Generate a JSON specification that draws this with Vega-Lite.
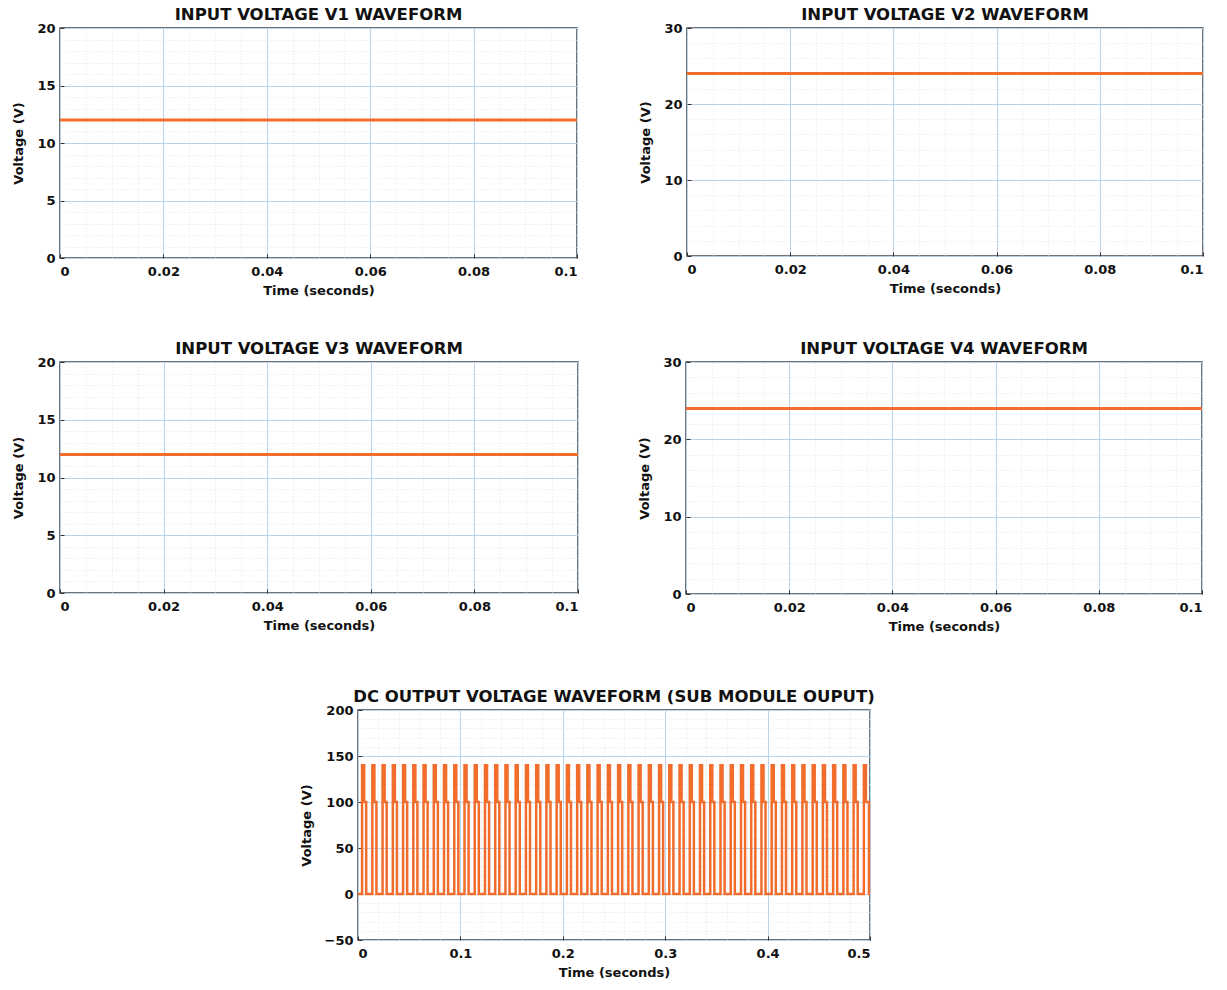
{
  "$schema": "https://vega.github.io/schema/vega-lite/v6.json",
  "background": "white",
  "padding": {"left": 12, "top": 5, "right": 5, "bottom": 5},
  "datasets": {
    "v1": [{"t": 0, "v": 12}, {"t": 0.1, "v": 12}],
    "v2": [{"t": 0, "v": 24}, {"t": 0.1, "v": 24}],
    "v3": [{"t": 0, "v": 12}, {"t": 0.1, "v": 12}],
    "v4": [{"t": 0, "v": 24}, {"t": 0.1, "v": 24}],
    "vdc": [
      {"t": 0, "v": 0},
      {"t": 0.004, "v": 140}, {"t": 0.006, "v": 100}, {"t": 0.008, "v": 0},
      {"t": 0.014, "v": 140}, {"t": 0.016, "v": 100}, {"t": 0.018, "v": 0},
      {"t": 0.024, "v": 140}, {"t": 0.026, "v": 100}, {"t": 0.028, "v": 0},
      {"t": 0.034, "v": 140}, {"t": 0.036, "v": 100}, {"t": 0.038, "v": 0},
      {"t": 0.044, "v": 140}, {"t": 0.046, "v": 100}, {"t": 0.048, "v": 0},
      {"t": 0.054, "v": 140}, {"t": 0.056, "v": 100}, {"t": 0.058, "v": 0},
      {"t": 0.064, "v": 140}, {"t": 0.066, "v": 100}, {"t": 0.068, "v": 0},
      {"t": 0.074, "v": 140}, {"t": 0.076, "v": 100}, {"t": 0.078, "v": 0},
      {"t": 0.084, "v": 140}, {"t": 0.086, "v": 100}, {"t": 0.088, "v": 0},
      {"t": 0.094, "v": 140}, {"t": 0.096, "v": 100}, {"t": 0.098, "v": 0},
      {"t": 0.104, "v": 140}, {"t": 0.106, "v": 100}, {"t": 0.108, "v": 0},
      {"t": 0.114, "v": 140}, {"t": 0.116, "v": 100}, {"t": 0.118, "v": 0},
      {"t": 0.124, "v": 140}, {"t": 0.126, "v": 100}, {"t": 0.128, "v": 0},
      {"t": 0.134, "v": 140}, {"t": 0.136, "v": 100}, {"t": 0.138, "v": 0},
      {"t": 0.144, "v": 140}, {"t": 0.146, "v": 100}, {"t": 0.148, "v": 0},
      {"t": 0.154, "v": 140}, {"t": 0.156, "v": 100}, {"t": 0.158, "v": 0},
      {"t": 0.164, "v": 140}, {"t": 0.166, "v": 100}, {"t": 0.168, "v": 0},
      {"t": 0.174, "v": 140}, {"t": 0.176, "v": 100}, {"t": 0.178, "v": 0},
      {"t": 0.184, "v": 140}, {"t": 0.186, "v": 100}, {"t": 0.188, "v": 0},
      {"t": 0.194, "v": 140}, {"t": 0.196, "v": 100}, {"t": 0.198, "v": 0},
      {"t": 0.204, "v": 140}, {"t": 0.206, "v": 100}, {"t": 0.208, "v": 0},
      {"t": 0.214, "v": 140}, {"t": 0.216, "v": 100}, {"t": 0.218, "v": 0},
      {"t": 0.224, "v": 140}, {"t": 0.226, "v": 100}, {"t": 0.228, "v": 0},
      {"t": 0.234, "v": 140}, {"t": 0.236, "v": 100}, {"t": 0.238, "v": 0},
      {"t": 0.244, "v": 140}, {"t": 0.246, "v": 100}, {"t": 0.248, "v": 0},
      {"t": 0.254, "v": 140}, {"t": 0.256, "v": 100}, {"t": 0.258, "v": 0},
      {"t": 0.264, "v": 140}, {"t": 0.266, "v": 100}, {"t": 0.268, "v": 0},
      {"t": 0.274, "v": 140}, {"t": 0.276, "v": 100}, {"t": 0.278, "v": 0},
      {"t": 0.284, "v": 140}, {"t": 0.286, "v": 100}, {"t": 0.288, "v": 0},
      {"t": 0.294, "v": 140}, {"t": 0.296, "v": 100}, {"t": 0.298, "v": 0},
      {"t": 0.304, "v": 140}, {"t": 0.306, "v": 100}, {"t": 0.308, "v": 0},
      {"t": 0.314, "v": 140}, {"t": 0.316, "v": 100}, {"t": 0.318, "v": 0},
      {"t": 0.324, "v": 140}, {"t": 0.326, "v": 100}, {"t": 0.328, "v": 0},
      {"t": 0.334, "v": 140}, {"t": 0.336, "v": 100}, {"t": 0.338, "v": 0},
      {"t": 0.344, "v": 140}, {"t": 0.346, "v": 100}, {"t": 0.348, "v": 0},
      {"t": 0.354, "v": 140}, {"t": 0.356, "v": 100}, {"t": 0.358, "v": 0},
      {"t": 0.364, "v": 140}, {"t": 0.366, "v": 100}, {"t": 0.368, "v": 0},
      {"t": 0.374, "v": 140}, {"t": 0.376, "v": 100}, {"t": 0.378, "v": 0},
      {"t": 0.384, "v": 140}, {"t": 0.386, "v": 100}, {"t": 0.388, "v": 0},
      {"t": 0.394, "v": 140}, {"t": 0.396, "v": 100}, {"t": 0.398, "v": 0},
      {"t": 0.404, "v": 140}, {"t": 0.406, "v": 100}, {"t": 0.408, "v": 0},
      {"t": 0.414, "v": 140}, {"t": 0.416, "v": 100}, {"t": 0.418, "v": 0},
      {"t": 0.424, "v": 140}, {"t": 0.426, "v": 100}, {"t": 0.428, "v": 0},
      {"t": 0.434, "v": 140}, {"t": 0.436, "v": 100}, {"t": 0.438, "v": 0},
      {"t": 0.444, "v": 140}, {"t": 0.446, "v": 100}, {"t": 0.448, "v": 0},
      {"t": 0.454, "v": 140}, {"t": 0.456, "v": 100}, {"t": 0.458, "v": 0},
      {"t": 0.464, "v": 140}, {"t": 0.466, "v": 100}, {"t": 0.468, "v": 0},
      {"t": 0.474, "v": 140}, {"t": 0.476, "v": 100}, {"t": 0.478, "v": 0},
      {"t": 0.484, "v": 140}, {"t": 0.486, "v": 100}, {"t": 0.488, "v": 0},
      {"t": 0.494, "v": 140}, {"t": 0.496, "v": 100}, {"t": 0.499, "v": 0},
      {"t": 0.5, "v": 0}
    ]
  },
  "align": "none",
  "spacing": 53,
  "vconcat": [
    {
      "align": "none",
      "spacing": 41,
      "vconcat": [
        {
          "align": "none",
          "spacing": 55,
          "hconcat": [
            {
              "width": 517, "height": 230,
              "title": "INPUT VOLTAGE V1 WAVEFORM",
              "data": {"name": "v1"},
              "layer": [
                {
                  "mark": {"type": "line", "opacity": 0},
                  "encoding": {
                    "x": {"field": "t", "type": "quantitative", "scale": {"domain": [0, 0.1], "nice": false},
                          "axis": {"orient": "top", "values": [0.005, 0.01, 0.015, 0.025, 0.03, 0.035, 0.045, 0.05, 0.055, 0.065, 0.07, 0.075, 0.085, 0.09, 0.095], "grid": true, "gridDash": [1, 2], "gridColor": "#e2e8ef", "labels": false, "ticks": false, "title": null}},
                    "y": {"field": "v", "type": "quantitative", "scale": {"domain": [0, 20], "nice": false},
                          "axis": {"orient": "right", "values": [1, 2, 3, 4, 6, 7, 8, 9, 11, 12, 13, 14, 16, 17, 18, 19], "grid": true, "gridDash": [1, 2], "gridColor": "#e2e8ef", "labels": false, "ticks": false, "title": null}}
                  }
                },
                {
                  "mark": {"type": "line", "color": "#f26d2c", "strokeWidth": 3},
                  "encoding": {
                    "x": {"field": "t", "type": "quantitative", "scale": {"domain": [0, 0.1], "nice": false},
                          "axis": {"values": [0, 0.02, 0.04, 0.06, 0.08, 0.1], "format": "~g", "grid": true, "title": "Time (seconds)"}},
                    "y": {"field": "v", "type": "quantitative", "scale": {"domain": [0, 20], "nice": false},
                          "axis": {"values": [0, 5, 10, 15, 20], "grid": true, "title": "Voltage (V)"}}
                  }
                }
              ],
              "resolve": {"axis": {"x": "independent", "y": "independent"}}
            },
            {
              "width": 516, "height": 228,
              "title": "INPUT VOLTAGE V2 WAVEFORM",
              "data": {"name": "v2"},
              "layer": [
                {
                  "mark": {"type": "line", "opacity": 0},
                  "encoding": {
                    "x": {"field": "t", "type": "quantitative", "scale": {"domain": [0, 0.1], "nice": false},
                          "axis": {"orient": "top", "values": [0.005, 0.01, 0.015, 0.025, 0.03, 0.035, 0.045, 0.05, 0.055, 0.065, 0.07, 0.075, 0.085, 0.09, 0.095], "grid": true, "gridDash": [1, 2], "gridColor": "#e2e8ef", "labels": false, "ticks": false, "title": null}},
                    "y": {"field": "v", "type": "quantitative", "scale": {"domain": [0, 30], "nice": false},
                          "axis": {"orient": "right", "values": [2, 4, 6, 8, 12, 14, 16, 18, 22, 24, 26, 28], "grid": true, "gridDash": [1, 2], "gridColor": "#e2e8ef", "labels": false, "ticks": false, "title": null}}
                  }
                },
                {
                  "mark": {"type": "line", "color": "#f26d2c", "strokeWidth": 3},
                  "encoding": {
                    "x": {"field": "t", "type": "quantitative", "scale": {"domain": [0, 0.1], "nice": false},
                          "axis": {"values": [0, 0.02, 0.04, 0.06, 0.08, 0.1], "format": "~g", "grid": true, "title": "Time (seconds)"}},
                    "y": {"field": "v", "type": "quantitative", "scale": {"domain": [0, 30], "nice": false},
                          "axis": {"values": [0, 10, 20, 30], "grid": true, "title": "Voltage (V)"}}
                  }
                }
              ],
              "resolve": {"axis": {"x": "independent", "y": "independent"}}
            }
          ]
        },
        {
          "align": "none",
          "spacing": 53,
          "hconcat": [
            {
              "width": 518, "height": 231,
              "title": "INPUT VOLTAGE V3 WAVEFORM",
              "data": {"name": "v3"},
              "layer": [
                {
                  "mark": {"type": "line", "opacity": 0},
                  "encoding": {
                    "x": {"field": "t", "type": "quantitative", "scale": {"domain": [0, 0.1], "nice": false},
                          "axis": {"orient": "top", "values": [0.005, 0.01, 0.015, 0.025, 0.03, 0.035, 0.045, 0.05, 0.055, 0.065, 0.07, 0.075, 0.085, 0.09, 0.095], "grid": true, "gridDash": [1, 2], "gridColor": "#e2e8ef", "labels": false, "ticks": false, "title": null}},
                    "y": {"field": "v", "type": "quantitative", "scale": {"domain": [0, 20], "nice": false},
                          "axis": {"orient": "right", "values": [1, 2, 3, 4, 6, 7, 8, 9, 11, 12, 13, 14, 16, 17, 18, 19], "grid": true, "gridDash": [1, 2], "gridColor": "#e2e8ef", "labels": false, "ticks": false, "title": null}}
                  }
                },
                {
                  "mark": {"type": "line", "color": "#f26d2c", "strokeWidth": 3},
                  "encoding": {
                    "x": {"field": "t", "type": "quantitative", "scale": {"domain": [0, 0.1], "nice": false},
                          "axis": {"values": [0, 0.02, 0.04, 0.06, 0.08, 0.1], "format": "~g", "grid": true, "title": "Time (seconds)"}},
                    "y": {"field": "v", "type": "quantitative", "scale": {"domain": [0, 20], "nice": false},
                          "axis": {"values": [0, 5, 10, 15, 20], "grid": true, "title": "Voltage (V)"}}
                  }
                }
              ],
              "resolve": {"axis": {"x": "independent", "y": "independent"}}
            },
            {
              "width": 516, "height": 232,
              "title": "INPUT VOLTAGE V4 WAVEFORM",
              "data": {"name": "v4"},
              "layer": [
                {
                  "mark": {"type": "line", "opacity": 0},
                  "encoding": {
                    "x": {"field": "t", "type": "quantitative", "scale": {"domain": [0, 0.1], "nice": false},
                          "axis": {"orient": "top", "values": [0.005, 0.01, 0.015, 0.025, 0.03, 0.035, 0.045, 0.05, 0.055, 0.065, 0.07, 0.075, 0.085, 0.09, 0.095], "grid": true, "gridDash": [1, 2], "gridColor": "#e2e8ef", "labels": false, "ticks": false, "title": null}},
                    "y": {"field": "v", "type": "quantitative", "scale": {"domain": [0, 30], "nice": false},
                          "axis": {"orient": "right", "values": [2, 4, 6, 8, 12, 14, 16, 18, 22, 24, 26, 28], "grid": true, "gridDash": [1, 2], "gridColor": "#e2e8ef", "labels": false, "ticks": false, "title": null}}
                  }
                },
                {
                  "mark": {"type": "line", "color": "#f26d2c", "strokeWidth": 3},
                  "encoding": {
                    "x": {"field": "t", "type": "quantitative", "scale": {"domain": [0, 0.1], "nice": false},
                          "axis": {"values": [0, 0.02, 0.04, 0.06, 0.08, 0.1], "format": "~g", "grid": true, "title": "Time (seconds)"}},
                    "y": {"field": "v", "type": "quantitative", "scale": {"domain": [0, 30], "nice": false},
                          "axis": {"values": [0, 10, 20, 30], "grid": true, "title": "Voltage (V)"}}
                  }
                }
              ],
              "resolve": {"axis": {"x": "independent", "y": "independent"}}
            }
          ]
        }
      ]
    },
    {
      "align": "none",
      "spacing": 0,
      "hconcat": [
        {
          "width": 239, "height": 230,
          "data": {"values": [{}]},
          "mark": {"type": "point", "opacity": 0},
          "view": {"stroke": null}
        },
        {
          "width": 512, "height": 230,
          "title": "DC OUTPUT VOLTAGE WAVEFORM (SUB MODULE OUPUT)",
          "data": {"name": "vdc"},
          "layer": [
            {
              "mark": {"type": "line", "opacity": 0},
              "encoding": {
                "x": {"field": "t", "type": "quantitative", "scale": {"domain": [0, 0.5], "nice": false},
                      "axis": {"orient": "top", "values": [0.02, 0.04, 0.06, 0.08, 0.12, 0.14, 0.16, 0.18, 0.22, 0.24, 0.26, 0.28, 0.32, 0.34, 0.36, 0.38, 0.42, 0.44, 0.46, 0.48], "grid": true, "gridDash": [1, 2], "gridColor": "#e2e8ef", "labels": false, "ticks": false, "title": null}},
                "y": {"field": "v", "type": "quantitative", "scale": {"domain": [-50, 200], "nice": false},
                      "axis": {"orient": "right", "values": [-40, -30, -20, -10, 10, 20, 30, 40, 60, 70, 80, 90, 110, 120, 130, 140, 160, 170, 180, 190], "grid": true, "gridDash": [1, 2], "gridColor": "#e2e8ef", "labels": false, "ticks": false, "title": null}}
              }
            },
            {
              "mark": {"type": "line", "color": "#f26d2c", "strokeWidth": 2.5, "interpolate": "step-after"},
              "encoding": {
                "x": {"field": "t", "type": "quantitative", "scale": {"domain": [0, 0.5], "nice": false},
                      "axis": {"values": [0, 0.1, 0.2, 0.3, 0.4, 0.5], "format": "~g", "grid": true, "title": "Time (seconds)"}},
                "y": {"field": "v", "type": "quantitative", "scale": {"domain": [-50, 200], "nice": false},
                      "axis": {"values": [-50, 0, 50, 100, 150, 200], "grid": true, "title": "Voltage (V)"}}
              }
            }
          ],
          "resolve": {"axis": {"x": "independent", "y": "independent"}}
        }
      ]
    }
  ],
  "config": {
    "font": "DejaVu Sans",
    "view": {"stroke": "#444444", "strokeWidth": 1.5},
    "axis": {
      "labelFont": "DejaVu Sans",
      "labelFontWeight": "bold",
      "labelFontSize": 13,
      "labelColor": "#111111",
      "titleFont": "DejaVu Sans",
      "titleFontSize": 13,
      "titleFontWeight": "bold",
      "titleColor": "#111111",
      "domain": false,
      "gridColor": "#b9d3ea",
      "gridWidth": 1,
      "tickColor": "#333333",
      "tickSize": -4
    },
    "axisX": {"labelPadding": 11, "titlePadding": 6},
    "axisY": {"labelPadding": 9, "titlePadding": 11},
    "title": {
      "font": "DejaVu Sans",
      "fontSize": 16.5,
      "fontWeight": "bold",
      "color": "#111111",
      "frame": "group",
      "offset": -1
    }
  }
}
